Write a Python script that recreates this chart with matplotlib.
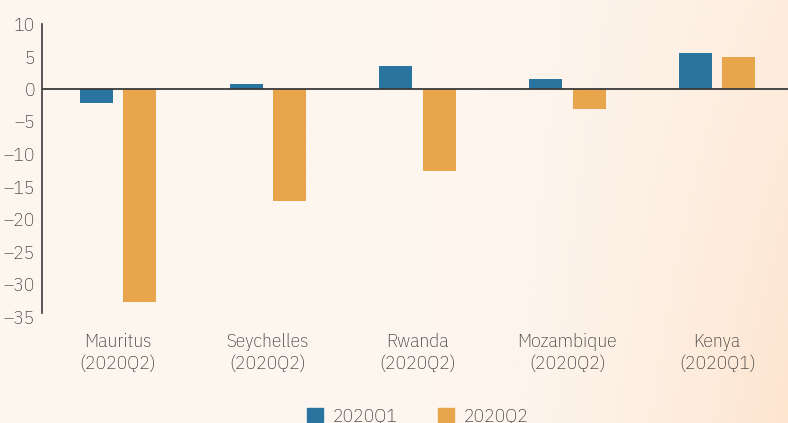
import numpy as np
import matplotlib
matplotlib.use('Agg')
import matplotlib.pyplot as plt
from matplotlib.patches import Patch

categories = ['Mauritus\n(2020Q2)', 'Seychelles\n(2020Q2)', 'Rwanda\n(2020Q2)',
              'Mozambique\n(2020Q2)', 'Kenya\n(2020Q1)']
q1_values = [-2.2, 0.8, 3.5, 1.5, 5.5]
q2_values = [-32.8, -17.3, -12.6, -3.1, 4.9]
series_names = ['2020Q1', '2020Q2']
yticks = [10, 5, 0, -5, -10, -15, -20, -25, -30, -35]

BLUE = '#2a75a0'
ORANGE = '#e8a54b'
TEXT = '#333333'

plt.rcParams['font.family'] = ['IBM Plex Sans Condensed', 'DejaVu Sans']
plt.rcParams['font.weight'] = 'light'

W, H = 788, 423
fig = plt.figure(figsize=(W / 100, H / 100), dpi=100)

# background gradient
bg = fig.add_axes([0, 0, 1, 1], zorder=-10)
nx, ny = 200, 110
gx = np.linspace(0, 1, nx)[None, :].repeat(ny, 0)
gy = np.linspace(0, 1, ny)[:, None].repeat(nx, 1)  # 0 top, 1 bottom
t = np.clip((gx - 0.55) / 0.45, 0, 1) ** 1.6 * (0.55 + 0.45 * gy)
c0 = np.array([253, 246, 239]) / 255
c1 = np.array([253, 229, 208]) / 255
img = c0[None, None, :] + (c1 - c0)[None, None, :] * t[:, :, None]
bg.imshow(img, aspect='auto', extent=[0, 1, 0, 1], interpolation='bilinear')
bg.set_axis_off()

left = 42 / W
bottom = 1 - 316.5 / H
top = 1 - 24 / H
ax = fig.add_axes([left, bottom, 1 - left, top - bottom])
ax.patch.set_alpha(0)

x = np.arange(len(categories))
w = 0.22
ax.bar(x - 0.145, q1_values, w, color=BLUE, label=series_names[0], zorder=2)
ax.bar(x + 0.145, q2_values, w, color=ORANGE, label=series_names[1], zorder=2)
ax.axhline(0, color='#3a3a3a', lw=1.3, zorder=3)

ax.set_xlim(-0.507, 4.473)
ax.set_ylim(-35, 10)
ax.set_yticks(yticks)
ax.set_yticklabels([str(v).replace('-', '\u2013') for v in yticks])
ax.set_xticks(x)
ax.set_xticklabels(categories, fontsize=14, color=TEXT, linespacing=1.3)
ax.tick_params(axis='y', length=0, pad=5, labelsize=14, labelcolor=TEXT)
ax.tick_params(axis='x', length=0, pad=12)
for s in ['top', 'right', 'bottom']:
    ax.spines[s].set_visible(False)
ax.spines['left'].set_color('#3a3a3a')
ax.spines['left'].set_linewidth(1.2)
ax.spines['left'].set_bounds(-34.5, 10)

handles = [Patch(color=BLUE), Patch(color=ORANGE)]
fig.legend(handles, series_names, loc='upper center', ncol=2,
           bbox_to_anchor=(418 / W, 1 - 390 / H), frameon=False,
           fontsize=14, handlelength=0.8, handleheight=0.8,
           handletextpad=0.5, columnspacing=2.1, labelcolor=TEXT)

fig.savefig('out.png', dpi=100)
